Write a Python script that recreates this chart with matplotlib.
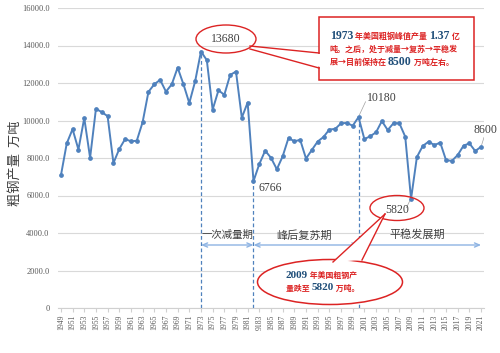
import matplotlib
matplotlib.use('Agg')
import matplotlib.pyplot as plt
from matplotlib.patches import Ellipse, Rectangle, Polygon
from matplotlib.lines import Line2D
from matplotlib.text import Annotation

plt.rcParams['font.family'] = ['Noto Sans CJK SC', 'DejaVu Sans']

# 美国粗钢产量 (万吨)
years = list(range(1949, 2022))
output = [7070, 8780, 9540, 8450, 10130, 8010, 10620, 10450, 10230, 7730,
          8480, 9010, 8890, 8920, 9910, 11530, 11930, 12170, 11540, 11930,
          12820, 11930, 10930, 12090, 13680, 13220, 10580, 11610, 11370, 12430,
          12610, 10150, 10960, 6766, 7680, 8390, 8010, 7400, 8090, 9070,
          8890, 8970, 7970, 8430, 8880, 9120, 9520, 9550, 9850, 9870,
          9720, 10180, 9010, 9160, 9370, 9970, 9490, 9860, 9850, 9140,
          5820, 8050, 8640, 8870, 8690, 8820, 7880, 7850, 8160, 8660,
          8780, 8370, 8600]

tick_years = years[::2]
tick_labels = ['9183' if y == 1983 else str(y) for y in tick_years]
y_ticks = list(range(0, 16001, 2000))
y_labels = ['0' if v == 0 else f'{v:.1f}' for v in y_ticks]

key_years = [1973, 1982, 2000]
key_values = [13680, 6766, 10180]
phases = ['一次减量期', '峰后复苏期', '平稳发展期']
phase_bounds = [1973, 1982, 2000, 2021]

W, H = 500, 353
serif = ['Liberation Serif', 'DejaVu Serif']
red = '#dc2323'
navy = '#1f4e79'
blue = '#4f81bd'


def fx(x):
    return x / W


def fy(y):
    return 1 - y / H


fig = plt.figure(figsize=(5, 3.53), dpi=100)
ax = fig.add_axes([58 / W, 45 / H, 426 / W, 300 / H])

ax.plot(years, output, color=blue, lw=1.4, marker='o', ms=2.4, zorder=3)
ax.vlines(key_years, 0, key_values, colors=blue, linestyles=(0, (3, 2)), lw=0.9, zorder=2)

ax.set_xlim(1948.5, 2021.5)
ax.set_ylim(0, 16000)
ax.set_xticks(tick_years)
ax.set_xticklabels(tick_labels, rotation=90, fontsize=5.5, family=serif, color='#595959')
ax.set_yticks(y_ticks)
ax.set_yticklabels(y_labels, fontsize=6, family=serif, color='#595959')
ax.grid(axis='y', color='#d9d9d9', lw=0.8)
ax.set_axisbelow(True)
for s in ['top', 'right', 'left']:
    ax.spines[s].set_visible(False)
ax.spines['bottom'].set_color('#d0d0d0')
ax.tick_params(axis='y', length=0, pad=6)
ax.tick_params(axis='x', length=3, color='#d0d0d0', pad=2)

fig.text(fx(15), fy(163), '粗钢产量  万吨', rotation=90, ha='center', va='center',
         fontsize=9.5, color='#404040')

# 阶段箭头
for i, name in enumerate(phases):
    a, b = phase_bounds[i], phase_bounds[i + 1]
    ax.annotate('', xy=(a, 3360), xytext=(b, 3360),
                arrowprops=dict(arrowstyle='<->,head_length=0.35,head_width=0.15',
                                color='#8eb4e3', lw=1, shrinkA=0, shrinkB=0))
ax.text(1977.5, 3900, phases[0], ha='center', va='center', fontsize=7.5, color='#404040')
ax.text(1990.7, 3850, phases[1], ha='center', va='center', fontsize=8, color='#404040')
ax.text(2010, 3900, phases[2], ha='center', va='center', fontsize=8, color='#404040')

# 数据标签
ax.text(1977.3, 14350, '13680', ha='center', va='center', fontsize=8.5, family=serif, color='#404040')
ax.text(2001.5, 11200, '10180', ha='left', va='center', fontsize=8.5, family=serif, color='#404040')
ax.plot([2000.15, 2001.2], [10300, 11000], color='#a0a0a0', lw=0.5)
ax.text(1982.8, 6400, '6766', ha='left', va='center', fontsize=8.5, family=serif, color='#404040')
ax.text(2021.8, 9500, '8600', ha='center', va='center', fontsize=8.5, family=serif, color='#404040',
        clip_on=False)
ax.plot([2021.1, 2021.5], [8700, 9100], color='#a0a0a0', lw=0.5)
ax.text(2006.6, 5230, '5820', ha='center', va='center', fontsize=8.5, family=serif, color='#404040')
ax.plot([2009, 2008.2], [5850, 5350], color='#a0a0a0', lw=0.5)

# 上方标注框
fig.add_artist(Ellipse((fx(226), fy(39)), 60 / W, 28 / H, transform=fig.transFigure,
                       fill=False, edgecolor=red, lw=1))
fig.add_artist(Rectangle((fx(319), fy(80)), 155 / W, 63 / H, transform=fig.transFigure,
                         facecolor='white', edgecolor=red, lw=1.1))
fig.add_artist(Polygon([(fx(250), fy(47)), (fx(320), fy(54)), (fx(320), fy(67))],
                       transform=fig.transFigure, facecolor='white', edgecolor='none'))
fig.add_artist(Line2D([fx(250), fx(319)], [fy(46), fy(53)], transform=fig.transFigure, color=red, lw=1))
fig.add_artist(Line2D([fx(250), fx(319)], [fy(49), fy(68)], transform=fig.transFigure, color=red, lw=1))

# 下方标注椭圆
fig.add_artist(Ellipse((fx(397), fy(208)), 54 / W, 25 / H, transform=fig.transFigure,
                       fill=False, edgecolor=red, lw=1))
fig.add_artist(Ellipse((fx(330), fy(282)), 145 / W, 45 / H, transform=fig.transFigure,
                       facecolor='white', edgecolor=red, lw=1.1))
fig.add_artist(Polygon([(fx(385), fy(214)), (fx(333), fy(262)), (fx(362), fy(260))],
                       transform=fig.transFigure, facecolor='white', edgecolor='none'))
fig.add_artist(Line2D([fx(385), fx(333)], [fy(214), fy(262)], transform=fig.transFigure, color=red, lw=1))
fig.add_artist(Line2D([fx(385), fx(362)], [fy(214), fy(260)], transform=fig.transFigure, color=red, lw=1))


def runs(x, y, parts):
    prev = None
    for s, c, size, fam in parts:
        kw = dict(color=c, fontsize=size, fontweight='bold', va='center', ha='left', zorder=10)
        if fam:
            kw['family'] = fam
        if prev is None:
            prev = fig.text(fx(x), fy(y), s, **kw)
        else:
            prev = fig.add_artist(Annotation(s, xy=(1, 0.5), xycoords=prev, **kw))


cjk = 5.8
num = 8.5
runs(330, 36, [('1973', navy, num, serif), (' 年美国粗钢峰值产量 ', red, cjk, None),
               ('1.37', navy, num, serif), (' 亿', red, cjk, None)])
runs(330, 49, [('吨。之后，处于减量→复苏→平稳发', red, cjk, None)])
runs(330, 62, [('展→目前保持在 ', red, cjk, None), ('8500', navy, num, serif),
               (' 万吨左右。', red, cjk, None)])
runs(286, 275, [('2009', navy, 8, serif), (' 年美国粗钢产', red, 5.7, None)])
runs(286, 288, [('量跌至 ', red, 5.7, None), ('5820', navy, 8, serif), (' 万吨。', red, 5.7, None)])

plt.savefig('out.png', dpi=100)
print('Done')
